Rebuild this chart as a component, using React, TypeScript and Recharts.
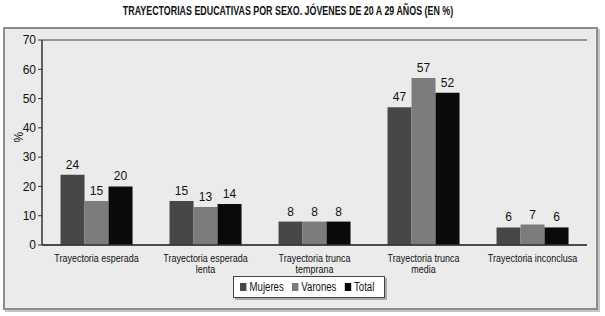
import { BarChart, Bar, XAxis, YAxis, CartesianGrid, LabelList, Legend } from "recharts";

const categories = [
  "Trayectoria esperada",
  "Trayectoria esperada\nlenta",
  "Trayectoria trunca\ntemprana",
  "Trayectoria trunca\nmedia",
  "Trayectoria inconclusa",
];
const mujeres = [24, 15, 8, 47, 6];
const varones = [15, 13, 8, 57, 7];
const total = [20, 14, 8, 52, 6];
const yTicks = [0, 10, 20, 30, 40, 50, 60, 70];

const series = [
  { key: "mujeres", name: "Mujeres", color: "#474747" },
  { key: "varones", name: "Varones", color: "#7c7c7c" },
  { key: "total", name: "Total", color: "#0a0a0a" },
];

const data = categories.map((c, i) => ({
  category: c,
  mujeres: mujeres[i],
  varones: varones[i],
  total: total[i],
}));

const FONT = '"Liberation Sans", Arial, sans-serif';

// the reference uses a condensed face, so squeeze the tick text horizontally
const CategoryTick = (props: any) => {
  const { x, y, payload } = props;
  const lines = String(payload.value).split("\n");
  return (
    <g transform={`translate(${x},${y + 9}) scale(0.78,1)`}>
      <text x={0} y={0} textAnchor="middle" fontSize={11.5} fill="#111" fontFamily={FONT}>
        {lines.map((l, i) => (
          <tspan key={i} x={0} dy={i === 0 ? 0 : 11.5}>
            {l}
          </tspan>
        ))}
      </text>
    </g>
  );
};

const LegendBox = () => (
  <div
    style={{
      width: 152,
      height: 22,
      boxSizing: "border-box",
      background: "#fff",
      border: "1px solid #444",
      boxShadow: "2px 2px 0 #aaa",
      position: "relative",
      overflow: "hidden",
    }}
  >
    <div
      style={{
        position: "absolute",
        left: 6,
        top: 3,
        display: "flex",
        alignItems: "center",
        gap: 10,
        whiteSpace: "nowrap",
        fontFamily: FONT,
        fontSize: 12,
        color: "#111",
        transform: "scaleX(0.8)",
        transformOrigin: "left center",
      }}
    >
      {series.map((s) => (
        <span key={s.key} style={{ display: "flex", alignItems: "center" }}>
          <span style={{ width: 8, height: 8, background: s.color, marginRight: 4, display: "inline-block" }} />
          {s.name}
        </span>
      ))}
    </div>
  </div>
);

export default function App() {
  return (
    <div style={{ position: "absolute", left: 0, top: 0, width: 605, height: 316, background: "#fff" }}>
      <div
        style={{
          position: "absolute",
          left: 3,
          top: 27,
          width: 591,
          height: 279,
          background: "#ebebeb",
          border: "2px solid #8c8c8c",
          boxShadow: "2px 2px 0 #c4c4c4",
        }}
      />
      <div
        style={{
          position: "absolute",
          left: 38,
          top: 4,
          width: 500,
          textAlign: "center",
          fontFamily: FONT,
          fontWeight: "bold",
          fontSize: 12,
          color: "#111",
          whiteSpace: "nowrap",
          transform: "scaleX(0.74)",
          transformOrigin: "center",
        }}
      >
        TRAYECTORIAS EDUCATIVAS POR SEXO. JÓVENES DE 20 A 29 AÑOS (EN %)
      </div>
      <BarChart
        width={605}
        height={316}
        data={data}
        margin={{ top: 40, right: 18, left: 0, bottom: 0 }}
        barCategoryGap="17%"
        barGap={0}
        style={{ position: "absolute", left: 0, top: 0 }}
      >
        <CartesianGrid vertical={false} stroke="#3a3a3a" strokeWidth={1} />
        <XAxis
          dataKey="category"
          height={71}
          interval={0}
          tick={<CategoryTick />}
          tickLine={false}
          axisLine={{ stroke: "#333", strokeWidth: 1.5 }}
        />
        <YAxis
          yAxisId="left"
          width={42}
          domain={[0, 70]}
          ticks={yTicks}
          tick={{ fontSize: 12, fill: "#111", fontFamily: FONT }}
          tickLine={{ stroke: "#333" }}
          tickSize={4}
          axisLine={{ stroke: "#333", strokeWidth: 1.5 }}
          label={{ value: "%", angle: -90, position: "insideLeft", offset: 19, fontSize: 12, fill: "#111", fontFamily: FONT }}
        />
        <YAxis
          yAxisId="right"
          orientation="right"
          width={0}
          domain={[0, 70]}
          tick={false}
          tickLine={false}
          axisLine={{ stroke: "#333", strokeWidth: 1.5 }}
        />
        <Legend
          layout="horizontal"
          verticalAlign="middle"
          align="center"
          content={<LegendBox />}
          wrapperStyle={{ left: 233, top: 276, width: 152 }}
        />
        {series.map((s) => (
          <Bar key={s.key} yAxisId="left" dataKey={s.key} name={s.name} fill={s.color} isAnimationActive={false}>
            <LabelList dataKey={s.key} position="top" offset={6} fontSize={12} fill="#111" fontFamily={FONT} />
          </Bar>
        ))}
      </BarChart>
    </div>
  );
}
